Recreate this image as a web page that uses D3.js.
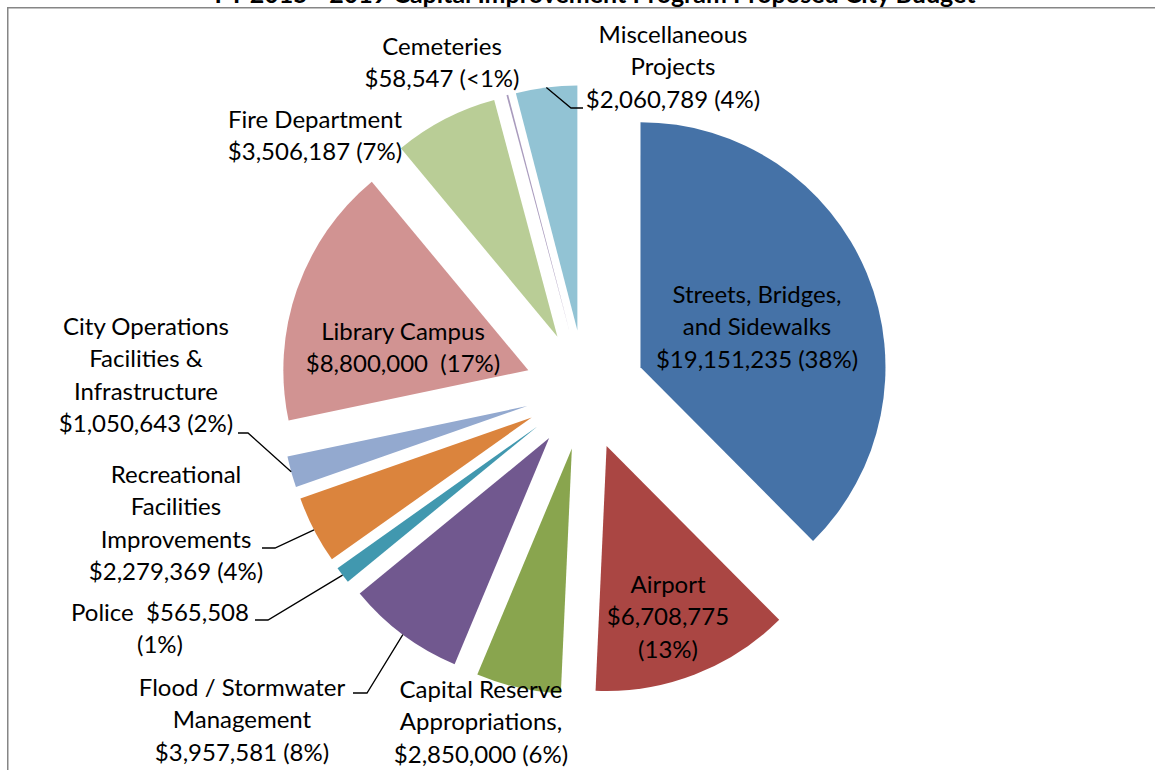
<!DOCTYPE html>
<html>
<head>
<meta charset="utf-8">
<script src="https://cdn.jsdelivr.net/npm/d3@7"></script>
<style>
  html, body { margin: 0; padding: 0; background: #fff; }
  svg { display: block; }
  text { font-family: Lato, "Open Sans", sans-serif; fill: #000; }
</style>
</head>
<body>
<svg id="chart" width="1155" height="770"></svg>
<script>
// ---- data ----
const categories = [
  "Streets, Bridges, and Sidewalks", "Airport", "Capital Reserve Appropriations",
  "Flood / Stormwater Management", "Police", "Recreational Facilities Improvements",
  "City Operations Facilities & Infrastructure", "Library Campus", "Fire Department",
  "Cemeteries", "Miscellaneous Projects"
];
const values = [19151235, 6708775, 2850000, 3957581, 565508, 2279369, 1050643, 8800000, 3506187, 58547, 2060789];
const colors = ["#4572A7", "#AA4643", "#89A54E", "#71588F", "#4198AF", "#DB843D", "#93A9CF", "#D19392", "#B9CD96", "#A99BBD", "#92C3D4"];
const labelLines = [
  ["Streets, Bridges,", "and Sidewalks", "$19,151,235 (38%)"],
  ["Airport", "$6,708,775", "(13%)"],
  ["Capital Reserve", "Appropriations,", "$2,850,000 (6%)"],
  ["Flood / Stormwater", "Management", "$3,957,581 (8%)"],
  ["Police  $565,508", "(1%)"],
  ["Recreational", "Facilities", "Improvements", "$2,279,369 (4%)"],
  ["City Operations", "Facilities &", "Infrastructure", "$1,050,643 (2%)"],
  ["Library Campus", "$8,800,000  (17%)"],
  ["Fire Department", "$3,506,187 (7%)"],
  ["Cemeteries", "$58,547 (<1%)"],
  ["Miscellaneous", "Projects", "$2,060,789 (4%)"]
];
const titleText = "FY 2015 - 2019 Capital Improvement Program Proposed City Budget";

// ---- layout (not data) ----
const W = 1155, H = 770;
const cx = 585, cy = 390, R = 245, explode = 60;
const lineH = 32.4;
const fontSize = 24;
// label block: center x, first baseline y
const labelPos = [
  [757, 303], [668, 593], [481, 698], [242, 696], [160, 621], [176, 483],
  [146, 335], [403, 340], [315, 128], [442, 55], [673, 43]
];
// leader lines: [elbowX, elbowY, endX] (null = none)
const leaders = [
  null, null, null,
  [367, 693, 353],
  [268, 620, 255],
  [275, 548, 262],
  [248, 433, 238],
  null, null, null,
  [571, 108, 583]
];

const svg = d3.select("#chart");

// border of chart area
svg.append("path")
  .attr("d", `M7.75,${H} L7.75,7.75 L${W},7.75`)
  .attr("fill", "none").attr("stroke", "#868686").attr("stroke-width", 1.5);

// title (mostly clipped off the top, as in the reference)
svg.append("text")
  .attr("x", 595).attr("y", 3)
  .attr("text-anchor", "middle")
  .style("font-weight", "bold").style("font-size", "25px")
  .text(titleText);

const pie = d3.pie().sort(null).value(d => d).startAngle(0).endAngle(2 * Math.PI);
const arcs = pie(values);
const arcGen = d3.arc().innerRadius(0).outerRadius(R);

function offsetOf(a, dist) {
  const m = (a.startAngle + a.endAngle) / 2;
  return [Math.sin(m) * dist, -Math.cos(m) * dist];
}

const g = svg.append("g").attr("transform", `translate(${cx},${cy})`);
g.selectAll("path.slice")
  .data(arcs)
  .join("path")
  .attr("class", "slice")
  .attr("d", arcGen)
  .attr("fill", (d, i) => colors[i])
  .attr("transform", d => {
    const [dx, dy] = offsetOf(d, explode);
    return `translate(${dx},${dy})`;
  });

// leader lines
arcs.forEach((a, i) => {
  const L = leaders[i];
  if (!L) return;
  const [ox, oy] = offsetOf(a, explode + R);
  const p0 = [cx + ox, cy + oy];
  svg.append("path")
    .attr("d", d3.line()([p0, [L[0], L[1]], [L[2], L[1]]]))
    .attr("fill", "none").attr("stroke", "#000").attr("stroke-width", 1.3);
});

// labels
labelLines.forEach((lines, i) => {
  const t = svg.append("text")
    .attr("text-anchor", "middle")
    .style("font-size", fontSize + "px")
    .style("white-space", "pre");
  lines.forEach((ln, j) => {
    t.append("tspan")
      .attr("x", labelPos[i][0])
      .attr("y", labelPos[i][1] + j * lineH)
      .text(ln);
  });
});
</script>
</body>
</html>
